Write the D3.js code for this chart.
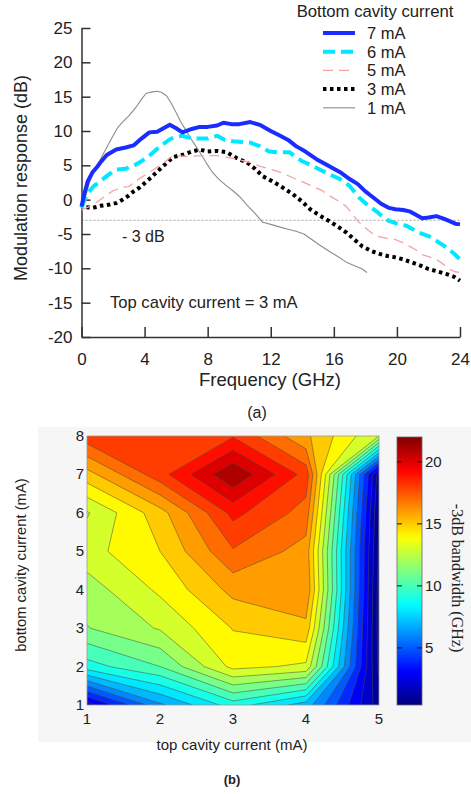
<!DOCTYPE html>
<html><head><meta charset="utf-8">
<script src="https://cdn.jsdelivr.net/npm/d3@7"></script>
<style>
body{margin:0;background:#fff}
svg{display:block}
text{font-family:"Liberation Sans",Arial,sans-serif;fill:#222}
</style>
</head><body>
<svg id="chart" width="471" height="794"></svg>
<script>
// ================= Panel (a): modulation response =================
const seriesNames = ["7 mA", "6 mA", "5 mA", "3 mA", "1 mA"];

const freq7 = [0,0.2,0.4,0.7,1.0,1.2,1.6,2.2,2.8,3.3,3.8,4.3,4.8,5.2,5.6,6.0,6.4,7.0,7.5,8.0,8.6,9.0,9.5,10.0,10.7,11.3,12.0,12.6,13.1,13.6,14.2,14.9,15.6,16.4,17.0,17.5,18.0,18.4,19.0,19.5,19.9,20.4,20.8,21.2,21.6,22.0,22.5,23.0,23.3,23.7,24.0];
const resp7 = [-1.0,1.0,2.7,4.0,4.8,5.4,6.5,7.3,7.6,7.9,8.9,9.8,9.9,10.4,10.9,10.4,9.8,10.3,10.6,10.6,10.8,11.2,11.0,11.0,11.3,10.9,10.0,9.3,8.7,7.8,7.0,5.9,5.0,4.0,3.0,2.3,1.2,0.5,-0.6,-1.2,-1.4,-1.5,-1.7,-2.2,-2.7,-2.6,-2.4,-2.8,-3.1,-3.5,-3.6];

const freq6 = [0,0.2,0.4,0.8,1.2,1.7,2.2,2.8,3.3,3.8,4.3,4.9,5.6,6.0,6.4,7.0,7.5,8.0,8.6,9.1,9.6,10.2,10.7,11.3,11.9,12.5,13.2,13.6,14.0,14.6,15.1,15.8,16.4,17.0,17.6,18.2,18.7,19.1,19.5,20.0,20.6,21.0,21.4,22.0,22.3,22.7,23.1,23.6,24.0];
const resp6 = [-1.2,0,1.0,2.0,2.7,3.6,4.4,4.5,4.9,5.6,6.4,7.6,8.8,9.2,9.3,8.9,8.9,8.9,9.3,8.7,8.5,8.4,8.3,7.8,7.0,6.9,6.9,6.2,5.6,5.0,4.4,3.6,3.0,2.0,0.3,-0.9,-1.7,-2.5,-3.1,-3.5,-3.8,-4.3,-4.8,-5.3,-5.7,-6.3,-6.9,-7.8,-8.7];

const freq5 = [0,0.5,1.0,1.5,2.0,2.6,3.0,3.5,4.3,5.0,5.8,6.7,7.7,8.6,9.6,10.4,11.3,12.0,12.6,13.6,14.6,15.2,15.7,16.3,16.8,17.2,17.6,18.2,18.7,19.3,19.9,20.4,20.8,21.2,21.6,22.0,22.5,23.0,23.3,23.7,24.0];
const resp5 = [-1.5,-1.0,-0.3,0.5,1.3,1.8,1.9,2.8,4.0,5.0,6.4,6.3,6.4,6.4,6.0,5.6,4.9,4.4,4.0,3.0,2.0,1.4,0.6,-0.2,-1.0,-2.2,-3.3,-4.5,-5.3,-5.6,-5.8,-6.3,-6.8,-7.3,-8.0,-8.3,-8.7,-9.5,-10.1,-10.5,-10.6];

const freq3 = [0.3,0.7,1.2,1.8,2.2,2.6,3.0,3.3,3.7,4.3,5.0,5.8,6.5,7.0,7.5,8.0,8.6,9.2,9.8,10.5,11.0,11.5,12.0,12.6,13.4,14.0,14.5,15.1,15.7,16.3,16.8,17.3,17.8,18.4,18.9,19.4,19.9,20.4,20.9,21.5,22.0,22.5,23.1,23.6,24.0];
const resp3 = [-1.1,-1.2,-0.9,-0.7,-0.5,0.0,0.6,1.2,1.8,3.0,4.5,6.2,6.6,7.0,7.3,7.0,7.1,6.9,6.1,5.4,4.5,3.4,2.8,2.0,0.8,-0.3,-1.4,-2.3,-3.1,-4.0,-4.8,-5.8,-6.8,-7.5,-7.9,-8.2,-8.4,-8.7,-9.1,-9.6,-10.1,-10.4,-10.8,-11.2,-11.8];

const freq1 = [0,0.2,0.5,0.8,1.2,1.6,2.0,2.3,2.6,3.0,3.5,3.8,4.1,4.5,4.8,5.1,5.4,5.7,6.0,6.3,6.7,7.1,7.5,7.9,8.3,8.7,9.2,9.6,10.0,10.5,11.0,11.5,12.0,12.6,13.1,13.6,14.1,14.6,15.1,15.7,16.2,16.8,17.2,17.5,17.8,18.1];
const resp1 = [-1.0,0.0,2.5,4.2,5.9,7.6,9.3,10.5,11.3,12.2,13.6,14.6,15.5,15.7,15.8,15.6,15.1,14.0,12.7,11.3,9.8,8.3,6.9,5.4,4.0,3.0,2.0,1.3,0.5,-0.8,-2.0,-3.3,-3.6,-4.0,-4.3,-4.6,-5.0,-5.8,-6.6,-7.5,-8.2,-9.1,-9.5,-9.8,-10.1,-10.6];

const yTicksA = [-20,-15,-10,-5,0,5,10,15,20,25];
const xTicksA = [0,4,8,12,16,20,24];
const cutoffLevel = -3;

// ================= Panel (b): -3 dB bandwidth map =================
const topCurrent = [1,2,3,4,5];
const bottomCurrent = [1,2,3,4,5,6,7,8];
// bandwidth (GHz) per bottom-cavity current row, columns = top current 1..5
const bwBottom1 = [2.5, 6.8, 9.5, 7.5, 1.5];
const bwBottom2 = [9.55, 11.0, 14.3, 13.8, 0.8];
const bwBottom3 = [11.95, 13.1, 15.05, 15.7, 0.6];
const bwBottom4 = [12.5, 14.2, 16.3, 16.9, 0.6];
const bwBottom5 = [13.6, 15.0, 17.9, 16.6, 0.8];
const bwBottom6 = [12.9, 15.6, 19.3, 17.6, 1.0];
const bwBottom7 = [15.6, 18.6, 21.9, 18.6, 1.5];
const bwBottom8 = [18.6, 18.5, 18.9, 16.2, 13.0];
const contourLevels = [0,1,2,3,4,5,6,7,8,9,10,11,12,13,14,15,16,17,18,19,20,21];
const colorbarTicks = [5,10,15,20];
const colorDomain = [0.4, 22];

// ---------------------------------------------------------------
const svg = d3.select("#chart");
svg.append("rect").attr("width",471).attr("height",794).attr("fill","#fff");

// ----- Panel (a) -----
const xA = d3.scaleLinear().domain([0,24]).range([81.5,460]);
const yA = d3.scaleLinear().domain([-20,25]).range([337,28]);

const gA = svg.append("g");
gA.append("line").attr("x1",xA(0)).attr("x2",xA(24)).attr("y1",yA(cutoffLevel)).attr("y2",yA(cutoffLevel))
  .attr("stroke","#8a8a8a").attr("stroke-width",0.8).attr("stroke-dasharray","2,2");

const axL = gA.append("g").attr("transform",`translate(${xA(0)},0)`)
  .call(d3.axisLeft(yA).tickValues(yTicksA).tickFormat(d=>String(d)).tickSizeInner(-9).tickSizeOuter(0).tickPadding(9));
const axB = gA.append("g").attr("transform",`translate(0,${yA(-20)})`)
  .call(d3.axisBottom(xA).tickValues(xTicksA).tickFormat(d=>String(d)).tickSizeInner(-10).tickSizeOuter(0).tickPadding(16));
[axL, axB].forEach(ax=>{
  ax.select(".domain").attr("stroke","#333").attr("stroke-width",1.5);
  ax.selectAll(".tick line").attr("stroke","#333").attr("stroke-width",1.5);
  ax.selectAll("text").attr("font-size",17).attr("fill","#222").attr("font-family","Liberation Sans, Arial, sans-serif");
});

const series = [
  {name: seriesNames[4], f: freq1, r: resp1, color:"#8c8c8c", w:1.1, dash:null},
  {name: seriesNames[3], f: freq3, r: resp3, color:"#000", w:4, dash:"3.5,3.5"},
  {name: seriesNames[2], f: freq5, r: resp5, color:"#f4a3a0", w:1.3, dash:"10,6"},
  {name: seriesNames[1], f: freq6, r: resp6, color:"#00e8ff", w:4, dash:"12,6"},
  {name: seriesNames[0], f: freq7, r: resp7, color:"#1a2cff", w:4, dash:null}
];
const line = d3.line().x(d=>xA(d[0])).y(d=>yA(d[1]));
series.forEach(s=>{
  gA.append("path").datum(s.f.map((f,i)=>[f,s.r[i]]))
    .attr("d",line).attr("fill","none").attr("stroke",s.color).attr("stroke-width",s.w)
    .attr("stroke-linejoin","round")
    .attr("stroke-dasharray",s.dash);
});

gA.append("text").attr("x",122).attr("y",242).attr("font-size",16).text("- 3 dB");
gA.append("text").attr("x",110).attr("y",308).attr("font-size",16.6).text("Top cavity current = 3 mA");
gA.append("text").attr("transform","translate(27,178) rotate(-90)").attr("text-anchor","middle")
  .attr("font-size",18).text("Modulation response (dB)");
gA.append("text").attr("x",270).attr("y",386).attr("text-anchor","middle").attr("font-size",18.5).text("Frequency (GHz)");
gA.append("text").attr("x",257).attr("y",418).attr("text-anchor","middle").attr("font-size",16).text("(a)");

const legend = gA.append("g");
legend.append("text").attr("x",375).attr("y",17).attr("text-anchor","middle").attr("font-size",16.7).text("Bottom cavity current");
const legendOrder = [series[4],series[3],series[2],series[1],series[0]];
legendOrder.forEach((s,i)=>{
  const y = 33 + i*18.7;
  legend.append("line").attr("x1",323).attr("x2",355).attr("y1",y).attr("y2",y)
    .attr("stroke",s.color).attr("stroke-width",s.w).attr("stroke-dasharray",s.dash);
  legend.append("text").attr("x",367).attr("y",y+6).attr("font-size",16.5).text(s.name);
});

// ----- Panel (b) -----
svg.append("rect").attr("x",38).attr("y",427).attr("width",433).attr("height",315).attr("fill","#f6f6f6");

const xB = d3.scaleLinear().domain([1,5]).range([87,379]);
const yB = d3.scaleLinear().domain([1,8]).range([705,436]);

function jet(v){
  let f = (v - colorDomain[0])/(colorDomain[1]-colorDomain[0]);
  f = Math.max(0, Math.min(1, f));
  const c = x => Math.round(255*Math.max(0, Math.min(1, x)));
  return `rgb(${c(1.5-Math.abs(4*f-3))},${c(1.5-Math.abs(4*f-2))},${c(1.5-Math.abs(4*f-1))})`;
}

const grid = [bwBottom1,bwBottom2,bwBottom3,bwBottom4,bwBottom5,bwBottom6,bwBottom7,bwBottom8];
const values = [].concat(...grid);
const contours = d3.contours().size([topCurrent.length, bottomCurrent.length]).thresholds(contourLevels)(values);

const proj = d3.geoTransform({
  point: function(x,y){
    this.stream.point(xB(topCurrent[0] + x - 0.5), yB(bottomCurrent[0] + y - 0.5));
  }
});
const geoPath = d3.geoPath(proj);

svg.append("clipPath").attr("id","plotclip").append("rect")
  .attr("x",xB(1)).attr("y",yB(8)).attr("width",xB(5)-xB(1)).attr("height",yB(1)-yB(8));

const gB = svg.append("g").attr("clip-path","url(#plotclip)");
gB.selectAll("path").data(contours).join("path")
  .attr("d",geoPath)
  .attr("fill",d=>jet(d.value))
  .attr("stroke","#4a4a3a").attr("stroke-width",0.6).attr("stroke-opacity",0.85);

svg.append("rect").attr("x",xB(1)).attr("y",yB(8)).attr("width",xB(5)-xB(1)).attr("height",yB(1)-yB(8))
  .attr("fill","none").attr("stroke","#999").attr("stroke-width",0.8);

svg.append("g").selectAll("text").data(bottomCurrent).join("text")
  .attr("x",84).attr("y",d=>yB(d)+5).attr("text-anchor","end").attr("font-size",15).attr("fill","#333").text(d=>d);
svg.append("g").selectAll("text").data(topCurrent).join("text")
  .attr("x",d=>xB(d)).attr("y",724).attr("text-anchor","middle").attr("font-size",15).attr("fill","#333").text(d=>d);

svg.append("text").attr("transform","translate(26,565) rotate(-90)").attr("text-anchor","middle")
  .attr("font-size",14.8).attr("fill","#333").text("bottom cavity current (mA)");
svg.append("text").attr("x",232).attr("y",750).attr("text-anchor","middle").attr("font-size",15).attr("fill","#333")
  .text("top cavity current (mA)");
svg.append("text").attr("x",232).attr("y",784).attr("text-anchor","middle").attr("font-size",13)
  .attr("font-weight","bold").attr("fill","#222").text("(b)");

const yC = d3.scaleLinear().domain(colorDomain).range([705,437]);
const defs = svg.append("defs");
const grad = defs.append("linearGradient").attr("id","jetgrad").attr("x1",0).attr("x2",0).attr("y1",1).attr("y2",0);
d3.range(0,1.0001,0.02).forEach(t=>{
  grad.append("stop").attr("offset",t).attr("stop-color",jet(colorDomain[0]+t*(colorDomain[1]-colorDomain[0])));
});
svg.append("rect").attr("x",397).attr("y",yC(colorDomain[1])).attr("width",25).attr("height",yC(colorDomain[0])-yC(colorDomain[1]))
  .attr("fill","url(#jetgrad)").attr("stroke","#666").attr("stroke-width",0.8);
const cbT = svg.append("g").selectAll("g").data(colorbarTicks).join("g");
cbT.append("line").attr("x1",397).attr("x2",402).attr("y1",d=>yC(d)).attr("y2",d=>yC(d)).attr("stroke","#111").attr("stroke-width",1);
cbT.append("line").attr("x1",417).attr("x2",422).attr("y1",d=>yC(d)).attr("y2",d=>yC(d)).attr("stroke","#111").attr("stroke-width",1);
cbT.append("text").attr("x",425).attr("y",d=>yC(d)+5).attr("font-size",15).attr("fill","#333").text(d=>d);

svg.append("text").attr("transform","translate(452,578) rotate(90)").attr("text-anchor","middle")
  .attr("font-size",16).attr("fill","#333").style("font-family","'Liberation Serif','Times New Roman',serif")
  .text("-3dB bandwidth (GHz)");
</script>
</body></html>
